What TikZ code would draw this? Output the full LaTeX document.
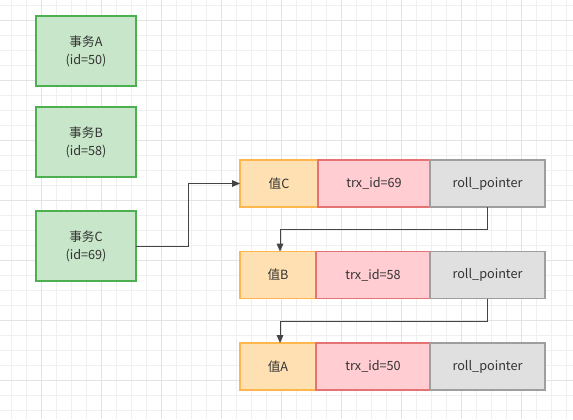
\documentclass[tikz,border=0pt]{standalone}
\usepackage{fontspec}
\setmainfont{Noto Sans CJK SC}
\usetikzlibrary{arrows.meta,positioning}
\definecolor{txfill}{HTML}{C8E6C9}
\definecolor{txline}{HTML}{4CAF50}
\definecolor{valfill}{HTML}{FFE0B2}
\definecolor{valline}{HTML}{FFB74D}
\definecolor{trxfill}{HTML}{FFCDD2}
\definecolor{trxline}{HTML}{E57373}
\definecolor{rollfill}{HTML}{E0E0E0}
\definecolor{rollline}{HTML}{9E9E9E}
\definecolor{ink}{HTML}{333333}
\definecolor{wire}{HTML}{444444}
\begin{document}
\begin{tikzpicture}[x=0.75pt,y=-0.75pt]
		\tikzstyle{minorgrid}=[draw=black!6,line width=0.75pt]
		\tikzstyle{majorgrid}=[draw=black!11,line width=0.75pt]
		\tikzstyle{cell}=[rectangle,line width=1.4pt,outer sep=0pt,inner sep=0pt,minimum height=35.25pt,text=ink,font=\fontsize{9.5}{13.5}\selectfont]
		\tikzstyle{txbox}=[cell,fill=txfill,draw=txline,minimum width=75pt,minimum height=52.5pt,align=center]
		\tikzstyle{valbox}=[cell,fill=valfill,draw=valline]
		\tikzstyle{trxbox}=[cell,fill=trxfill,draw=trxline]
		\tikzstyle{rollbox}=[cell,fill=rollfill,draw=rollline,minimum width=86.25pt]
		\tikzstyle{link}=[draw=wire,line width=0.75pt,-{Triangle[length=6pt,width=5pt]}]

		\useasboundingbox (0,0) rectangle (573,419);
		\fill[white] (0,0) rectangle (573,419);

		% grid
		\foreach \i in {0,...,37} { \draw[minorgrid] ({11.3+15*\i},0) -- ++(0,419);}
		\foreach \i in {0,...,27} { \draw[minorgrid] (0,{5.3+15*\i}) -- ++(573,0);}
		\foreach \i in {0,...,8} { \draw[majorgrid] ({41.3+60*\i},0) -- ++(0,419);}
		\foreach \i in {0,...,6} { \draw[majorgrid] (0,{20.3+60*\i}) -- ++(573,0);}

		% transactions
		\node[txbox] (txA) at (86,51) {事务A\\(id=50)};
		\node[txbox] (txB) at (86,142) {事务B\\(id=58)};
		\node[txbox] (txC) at (86,246) {事务C\\(id=69)};

		% version chain
		\node[valbox,minimum width=58.5pt] (valC) at (279,183.5) {值C};
		\node[trxbox,minimum width=84pt,right=0pt of valC] (trxC) {trx\_id=69};
		\node[rollbox,right=0pt of trxC] (rollC) {roll\_pointer};

		\node[valbox,minimum width=57pt] (valB) at (278,275) {值B};
		\node[trxbox,minimum width=85.5pt,right=0pt of valB] (trxB) {trx\_id=58};
		\node[rollbox,right=0pt of trxB] (rollB) {roll\_pointer};

		\node[valbox,minimum width=57pt] (valA) at (278,366.5) {值A};
		\node[trxbox,minimum width=85.5pt,right=0pt of valA] (trxA) {trx\_id=50};
		\node[rollbox,right=0pt of trxA] (rollA) {roll\_pointer};

		\draw[link] (txC.east) -- ++(52,0) |- (valC.west);
		\draw[link] (rollC.south) -- ++(0,22) -| ([xshift=1.5pt]valB.north);
		\draw[link] (rollB.south) -- ++(0,23) -| ([xshift=1.5pt]valA.north);
\end{tikzpicture}
\end{document}
